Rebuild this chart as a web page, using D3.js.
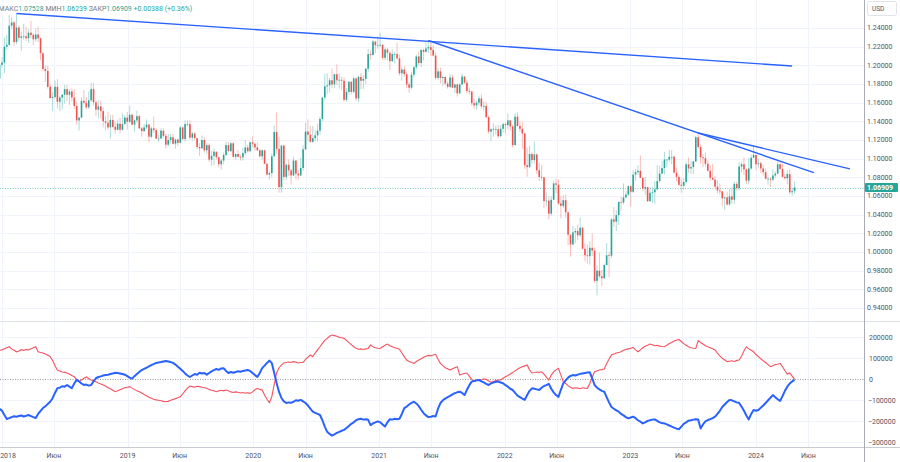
<!DOCTYPE html>
<html>
<head>
<meta charset="utf-8">
<script src="https://cdn.jsdelivr.net/npm/d3@7"></script>
<style>
  body { margin: 0; background: #fff; }
  svg { display: block; font-family: Roboto, "Noto Sans", sans-serif; }
</style>
</head>
<body>
<svg id="chart" width="900" height="462"></svg>
<script>
// weekly EURUSD bars, first bar = week of 2017-12-25, open of a bar = close of the bar before
const firstWeek = new Date(2017, 11, 25)
const firstOpen = 1.1860

const closes = [
  1.2005,
  // 2018
  1.2030,1.2200,1.2220,1.2425,1.2460,1.2250,1.2405,1.2295,1.2310,1.2310,1.2290,1.2350,1.2325,1.2280,1.2330,1.2290,1.2130,1.1960,
  1.1940,1.1770,1.1650,1.1660,1.1770,1.1610,1.1655,1.1685,1.1745,1.1685,1.1720,1.1655,1.1565,1.1410,1.1440,1.1620,1.1600,1.1550,
  1.1625,1.1745,1.1605,1.1525,1.1560,1.1510,1.1400,1.1385,1.1335,1.1415,1.1340,1.1310,1.1375,1.1310,1.1370,1.1440,1.1395,
  // 2019
  1.1470,1.1365,1.1410,1.1455,1.1325,1.1295,1.1335,1.1365,1.1235,1.1325,1.1305,1.1215,1.1215,1.1300,1.1245,1.1150,1.1200,1.1230,
  1.1160,1.1205,1.1170,1.1335,1.1210,1.1370,1.1370,1.1225,1.1270,1.1220,1.1125,1.1110,1.1200,1.1090,1.1145,1.0990,1.1030,1.1075,
  1.1015,1.0940,1.0980,1.1040,1.1145,1.1080,1.1165,1.1020,1.1050,1.1020,1.1015,1.1060,1.1120,1.1080,1.1175,1.1160,
  // 2020
  1.1120,1.1090,1.1025,1.1090,1.0945,1.0830,1.0845,1.1025,1.1285,1.1105,1.0695,1.1140,1.0805,1.0935,1.0875,1.0820,1.0980,1.0840,
  1.0820,1.0900,1.1100,1.1290,1.1255,1.1180,1.1220,1.1250,1.1300,1.1425,1.1655,1.1775,1.1785,1.1840,1.1795,1.1905,1.1840,1.1845,
  1.1835,1.1630,1.1715,1.1825,1.1715,1.1860,1.1645,1.1875,1.1835,1.1855,1.1965,1.2120,1.2110,1.2255,1.2215,1.2215,
  // 2021
  1.2220,1.2080,1.2170,1.2135,1.2045,1.2120,1.2120,1.2075,1.1915,1.1955,1.1905,1.1795,1.1760,1.1900,1.1980,1.2095,1.2025,1.2165,
  1.2145,1.2180,1.2195,1.2165,1.2105,1.1865,1.1935,1.1865,1.1875,1.1805,1.1770,1.1870,1.1760,1.1795,1.1700,1.1795,1.1880,1.1815,
  1.1725,1.1720,1.1595,1.1570,1.1600,1.1645,1.1560,1.1565,1.1445,1.1290,1.1315,1.1315,1.1315,1.1240,1.1320,1.1370,
  // 2022
  1.1360,1.1410,1.1345,1.1145,1.1450,1.1350,1.1320,1.1270,1.0930,1.0910,1.1050,1.0985,1.1045,1.0875,1.0805,1.0800,1.0545,1.0550,
  1.0410,1.0560,1.0735,1.0720,1.0520,1.0495,1.0555,1.0425,1.0185,1.0080,1.0210,1.0225,1.0180,1.0260,1.0035,0.9965,0.9955,1.0045,
  1.0015,0.9690,0.9800,0.9740,0.9720,0.9860,0.9965,0.9960,1.0350,1.0325,1.0395,1.0535,1.0530,1.0585,1.0615,1.0705,
  // 2023
  1.0645,1.0830,1.0855,1.0870,1.0795,1.0680,1.0695,1.0545,1.0635,1.0640,1.0670,1.0760,1.0840,1.0900,1.0990,1.0990,1.1020,1.1020,
  1.0850,1.0805,1.0720,1.0710,1.0750,1.0940,1.0895,1.0910,1.0970,1.1230,1.1125,1.1015,1.1005,1.0945,1.0870,1.0795,1.0775,1.0700,
  1.0660,1.0650,1.0575,1.0585,1.0510,1.0595,1.0560,1.0730,1.0685,1.0915,1.0940,1.0885,1.0765,1.0895,1.1010,1.1040,
  // 2024
  1.0940,1.0950,1.0895,1.0855,1.0785,1.0785,1.0775,1.0820,1.0840,1.0940,1.0890,1.0805,1.0790,1.0835,1.0640,1.06521,1.06909
]

const highs = [
  1.2023,
  1.2089,1.2297,1.2323,1.2537,1.2520,1.2475,1.2556,1.2430,1.2355,1.2446,1.2413,1.2388,1.2476,1.2345,1.2396,1.2414,1.2295,1.2140,
  1.1996,1.1996,1.1803,1.1717,1.1840,1.1852,1.1675,1.1690,1.1790,1.1791,1.1745,1.1750,1.1745,1.1610,1.1445,1.1655,1.1734,1.1660,
  1.1721,1.1815,1.1815,1.1625,1.1622,1.1621,1.1550,1.1456,1.1500,1.1472,1.1470,1.1400,1.1420,1.1440,1.1485,1.1470,1.1500,
  1.1570,1.1485,1.1420,1.1515,1.1470,1.1340,1.1370,1.1420,1.1350,1.1345,1.1450,1.1325,1.1255,1.1325,1.1325,1.1265,1.1265,1.1265,
  1.1265,1.1215,1.1215,1.1350,1.1345,1.1410,1.1410,1.1410,1.1285,1.1285,1.1215,1.1165,1.1250,1.1230,1.1165,1.1165,1.1085,1.1110,
  1.1075,1.1025,1.1000,1.1065,1.1180,1.1180,1.1175,1.1175,1.1055,1.1095,1.1040,1.1115,1.1200,1.1150,1.1185,1.1240,
  1.1170,1.1175,1.1100,1.1100,1.1095,1.0955,1.0865,1.1055,1.1355,1.1495,1.1235,1.1145,1.1150,1.0950,1.0990,1.0890,1.1020,1.0980,
  1.0875,1.1010,1.1145,1.1385,1.1420,1.1350,1.1350,1.1305,1.1375,1.1450,1.1660,1.1910,1.1915,1.1865,1.1965,1.1910,1.2010,1.1915,
  1.1880,1.1870,1.1755,1.1830,1.1800,1.1880,1.1870,1.1890,1.1920,1.1895,1.1965,1.2175,1.2165,1.2275,1.2250,1.2310,
  1.2350,1.2225,1.2190,1.2185,1.2150,1.2170,1.2145,1.2245,1.2115,1.1990,1.1990,1.1935,1.1820,1.1925,1.1995,1.2115,1.2150,1.2170,
  1.2180,1.2245,1.2265,1.2255,1.2220,1.2145,1.1975,1.1975,1.1895,1.1880,1.1830,1.1910,1.1900,1.1805,1.1805,1.1810,1.1910,1.1880,
  1.1845,1.1760,1.1720,1.1640,1.1625,1.1670,1.1690,1.1615,1.1610,1.1465,1.1325,1.1380,1.1355,1.1360,1.1360,1.1385,
  1.1385,1.1485,1.1415,1.1365,1.1485,1.1495,1.1395,1.1395,1.1275,1.1120,1.1140,1.1070,1.1185,1.1055,1.0955,1.0935,1.0800,1.0640,
  1.0595,1.0600,1.0765,1.0785,1.0775,1.0600,1.0610,1.0615,1.0430,1.0190,1.0280,1.0255,1.0295,1.0370,1.0270,1.0090,1.0080,1.0115,
  1.0200,1.0050,0.9855,0.9995,0.9810,0.9875,1.0095,1.0000,1.0365,1.0480,1.0450,1.0545,1.0595,1.0735,1.0655,1.0715,
  1.0715,1.0875,1.0890,1.0930,1.1035,1.0795,1.0805,1.0700,1.0690,1.0695,1.0760,1.0930,1.0925,1.0975,1.1075,1.0995,1.1095,1.1090,
  1.1035,1.0905,1.0830,1.0780,1.0790,1.0970,1.1010,1.0975,1.0975,1.1245,1.1275,1.1150,1.1045,1.1065,1.0985,1.0930,1.0945,1.0810,
  1.0770,1.0735,1.0650,1.0590,1.0640,1.0670,1.0695,1.0755,1.0755,1.0960,1.0965,1.1015,1.0895,1.1010,1.1045,1.1140,
  1.1045,1.1000,1.0970,1.0935,1.0895,1.0805,1.0805,1.0890,1.0865,1.0980,1.0965,1.0945,1.0840,1.0875,1.0885,1.0690,1.07528
]

const lows = [
  1.1850,
  1.1980,1.1915,1.2165,1.2210,1.2387,1.2206,1.2224,1.2260,1.2155,1.2275,1.2260,1.2240,1.2290,1.2215,1.2255,1.2250,1.2055,1.1937,
  1.1823,1.1750,1.1643,1.1510,1.1645,1.1540,1.1508,1.1527,1.1590,1.1614,1.1575,1.1610,1.1530,1.1365,1.1301,1.1430,1.1580,1.1526,
  1.1530,1.1610,1.1570,1.1460,1.1430,1.1430,1.1335,1.1302,1.1310,1.1215,1.1325,1.1265,1.1300,1.1270,1.1300,1.1370,1.1310,
  1.1380,1.1360,1.1290,1.1385,1.1320,1.1235,1.1290,1.1320,1.1175,1.1220,1.1275,1.1210,1.1180,1.1215,1.1225,1.1110,1.1135,1.1165,
  1.1150,1.1105,1.1135,1.1165,1.1200,1.1180,1.1345,1.1205,1.1195,1.1200,1.1100,1.1030,1.1110,1.1065,1.1050,1.0965,1.0925,1.0925,
  1.0990,1.0905,1.0880,1.0940,1.1025,1.1075,1.1070,1.1015,1.0990,1.1015,1.0980,1.0980,1.1040,1.1065,1.1070,1.1125,
  1.1085,1.1085,1.1020,1.0990,1.0940,1.0825,1.0775,1.0800,1.1055,1.1055,1.0635,1.0635,1.0770,1.0770,1.0815,1.0725,1.0815,1.0780,
  1.0775,1.0815,1.0870,1.1095,1.1190,1.1170,1.1170,1.1185,1.1185,1.1255,1.1400,1.1625,1.1695,1.1710,1.1755,1.1755,1.1790,1.1750,
  1.1735,1.1610,1.1610,1.1685,1.1690,1.1700,1.1620,1.1605,1.1745,1.1745,1.1800,1.1925,1.2060,1.2110,1.2130,1.2175,
  1.2195,1.2055,1.2055,1.2055,1.1950,1.2035,1.2020,1.2060,1.1890,1.1835,1.1875,1.1760,1.1705,1.1745,1.1870,1.1955,1.2000,1.1985,
  1.2050,1.2135,1.2135,1.2100,1.2095,1.1845,1.1845,1.1805,1.1780,1.1790,1.1750,1.1755,1.1755,1.1705,1.1665,1.1695,1.1790,1.1800,
  1.1700,1.1685,1.1565,1.1530,1.1525,1.1570,1.1535,1.1515,1.1430,1.1265,1.1185,1.1235,1.1260,1.1220,1.1235,1.1275,
  1.1270,1.1315,1.1300,1.1120,1.1150,1.1345,1.1285,1.1105,1.0890,1.0805,1.0900,1.0945,1.0945,1.0835,1.0760,1.0770,1.0470,1.0490,
  1.0350,1.0390,1.0560,1.0630,1.0505,1.0360,1.0470,1.0365,1.0070,0.9950,1.0095,1.0095,1.0125,1.0160,1.0030,0.9900,0.9875,0.9865,
  0.9955,0.9670,0.9535,0.9720,0.9630,0.9705,0.9860,0.9730,0.9935,1.0270,1.0225,1.0290,1.0440,1.0510,1.0575,1.0600,
  1.0485,1.0630,1.0765,1.0825,1.0790,1.0655,1.0615,1.0535,1.0535,1.0525,1.0515,1.0715,1.0745,1.0835,1.0830,1.0910,1.0965,1.0940,
  1.0850,1.0760,1.0710,1.0635,1.0665,1.0735,1.0845,1.0835,1.0835,1.0965,1.1110,1.0945,1.0910,1.0915,1.0865,1.0765,1.0770,1.0685,
  1.0630,1.0615,1.0490,1.0450,1.0495,1.0495,1.0520,1.0515,1.0655,1.0660,1.0850,1.0825,1.0725,1.0725,1.0880,1.1010,
  1.0875,1.0900,1.0845,1.0820,1.0780,1.0720,1.0695,1.0760,1.0795,1.0835,1.0875,1.0800,1.0775,1.0725,1.0620,1.0600,1.06239
]

// COT net positions, thousands of contracts, same weeks as the bars
const blueNet = [
  -140,
  -150,-170,-189,-185,-180,-176,-178,-175,-172,-177,-174,-170,-175,-180,-184,-165,-150,-137,-128,-118,
  -107,-90,-65,-42,-40,-33,-35,-27,-35,-42,-20,-3,-10,-20,-27,-25,-30,-27,-10,5,
  11,14,18,20,22,25,28,31,30,28,25,22,15,8,3,15,25,35,44,50,
  55,62,68,72,78,80,82,85,87,85,82,78,70,60,50,40,28,18,11,18,
  25,22,31,28,30,22,30,38,44,49,45,52,53,40,30,35,31,35,38,36,
  40,42,44,40,30,20,11,30,53,65,78,89,78,30,-18,-60,-89,-105,-113,-110,
  -112,-107,-100,-102,-98,-105,-113,-125,-140,-154,-160,-165,-170,-195,-225,-250,-260,-268,-262,-255,
  -250,-245,-241,-232,-222,-212,-205,-195,-190,-188,-192,-190,-193,-218,-210,-205,-200,-205,-215,-225,
  -205,-190,-192,-188,-190,-188,-165,-137,-130,-120,-112,-107,-115,-128,-145,-161,-172,-180,-178,-175,
  -177,-140,-113,-100,-92,-85,-79,-72,-66,-62,-59,-65,-75,-50,-28,-11,-8,-5,-3,-10,
  -15,-22,-27,-20,-15,-12,-11,-15,-19,-28,-35,-45,-51,-65,-78,-85,-92,-98,-75,-55,
  -43,-45,-48,-51,-40,-32,-28,-22,-45,-62,-75,-84,-50,-19,-5,8,16,20,18,22,
  26,28,30,32,33,5,-27,-40,-48,-55,-59,-85,-110,-132,-140,-148,-154,-165,-172,-180,
  -186,-182,-178,-185,-195,-202,-210,-205,-198,-195,-192,-191,-198,-205,-208,-210,-215,-220,-225,-230,
  -235,-238,-225,-212,-205,-197,-195,-192,-190,-191,-234,-215,-200,-194,-190,-185,-178,-165,-150,-132,
  -120,-108,-98,-100,-105,-110,-113,-130,-150,-172,-191,-165,-146,-150,-146,-135,-125,-113,-100,-88,
  -75,-85,-95,-103,-80,-55,-35,-20,-10,-3
]

const redNet = [
  138,
  140,145,150,155,145,138,131,135,141,138,142,140,145,150,155,131,128,125,120,114,
  108,90,65,44,40,35,33,30,25,18,12,0,-11,-3,5,11,4,-3,-8,-12,
  -18,-22,-27,-32,-40,-45,-52,-59,-55,-50,-45,-40,-38,-35,-42,-48,-55,-59,-65,-72,
  -78,-85,-90,-95,-98,-100,-102,-105,-107,-105,-100,-96,-92,-88,-83,-70,-55,-42,-32,-35,
  -38,-33,-35,-38,-40,-43,-48,-52,-55,-59,-55,-52,-55,-51,-55,-60,-63,-60,-62,-65,
  -63,-66,-64,-67,-60,-50,-43,-48,-51,-75,-95,-111,-83,-25,30,55,68,78,80,82,
  80,84,82,78,80,80,95,105,116,108,125,140,155,171,185,195,205,211,208,205,
  200,198,195,185,175,165,155,148,143,145,142,145,147,163,155,150,148,147,155,162,
  168,160,155,150,148,143,125,108,92,85,80,76,85,92,98,105,110,114,112,116,
  119,95,76,65,55,50,44,50,55,60,20,25,28,30,15,0,-11,-5,-2,-4,
  2,0,-8,-14,-10,-6,-4,-3,5,12,18,25,32,40,48,55,60,64,68,45,
  30,32,35,33,36,25,10,-3,20,35,45,52,20,-11,-20,-30,-38,-43,-40,-42,
  -45,-40,-42,-43,-20,10,36,40,44,46,49,75,95,116,120,125,128,131,138,142,
  145,148,152,140,131,140,150,158,162,168,165,160,162,158,156,155,162,170,175,182,
  186,190,180,170,162,155,150,148,147,184,175,168,160,155,150,145,140,125,112,100,
  92,84,86,88,85,90,92,110,135,155,145,138,131,118,108,98,88,80,70,60,
  65,70,72,76,60,42,25,30,15,0
]

const priceTicks = ['0.94000','0.96000','0.98000','1.00000','1.02000','1.04000','1.06000','1.08000',
  '1.10000','1.12000','1.14000','1.16000','1.18000','1.20000','1.22000','1.24000']
const cotTicks = [200000, 100000, 0, -100000, -200000, -300000]
const timeTicks = [
  ['2018-01-01','2018'],['2018-06-01','Июн'],['2019-01-01','2019'],['2019-06-01','Июн'],
  ['2020-01-01','2020'],['2020-06-01','Июн'],['2021-01-01','2021'],['2021-06-01','Июн'],
  ['2022-01-01','2022'],['2022-06-01','Июн'],['2023-01-01','2023'],['2023-06-01','Июн'],
  ['2024-01-01','2024'],['2024-06-01','Июн']
]

// hand drawn trend lines: [date, price] -> [date, price]
const trendLines = [
  [['2018-02-12', 1.2556], ['2024-04-15', 1.1993]],
  [['2021-05-24', 1.2266], ['2024-06-17', 1.0850]],
  [['2023-07-17', 1.1275], ['2024-09-30', 1.0890]]
]

const legendParts = [
  ['МАКС', 'label'], ['1.07528', 'value'], [' МИН', 'label'], ['1.06239', 'value'],
  [' ЗАКР', 'label'], ['1.06909', 'value'], [' +0.00388 (+0.36%)', 'value']
]
const lastPrice = 1.06909

const UP = '#26a69a', DOWN = '#ef5350', BLUE = '#2962ff', RED = '#f7525f'
const GRID = '#f0f3fa', TEXT = '#50535e'
const axisX = 864

const parse = d3.timeParse('%Y-%m-%d')
const svg = d3.select('#chart')

const x = d3.scaleTime()
  .domain([new Date(2018, 0, 1), new Date(2024, 0, 1)])
  .range([2, 756])
const y = d3.scaleLinear().domain([0.94, 1.24]).range([308, 28])
const yc = d3.scaleLinear().domain([-300000, 200000]).range([442.3, 337.3])

const bars = closes.map((c, i) => ({
  date: d3.timeWeek.offset(firstWeek, i),
  o: i === 0 ? firstOpen : closes[i - 1],
  c: c, h: highs[i], l: lows[i]
}))
const cot = blueNet.map((b, i) => ({ date: bars[i].date, blue: b * 1000, red: redNet[i] * 1000 }))

const defs = svg.append('defs')
defs.append('clipPath').attr('id', 'clipMain')
  .append('rect').attr('x', 0).attr('y', 0).attr('width', axisX).attr('height', 321)
defs.append('clipPath').attr('id', 'clipCot')
  .append('rect').attr('x', 0).attr('y', 322).attr('width', axisX).attr('height', 125)

// grid
const grid = svg.append('g').attr('stroke', GRID).attr('stroke-width', 1)
grid.selectAll('line.v')
  .data(timeTicks)
  .join('line')
  .attr('class', 'v')
  .attr('x1', d => Math.round(x(parse(d[0]))) + 0.5)
  .attr('x2', d => Math.round(x(parse(d[0]))) + 0.5)
  .attr('y1', 0).attr('y2', 447)
grid.selectAll('line.hp')
  .data(priceTicks)
  .join('line')
  .attr('class', 'hp')
  .attr('x1', 0).attr('x2', axisX)
  .attr('y1', d => Math.round(y(+d)) + 0.5)
  .attr('y2', d => Math.round(y(+d)) + 0.5)
grid.selectAll('line.hc')
  .data(cotTicks.filter(d => d !== 0))
  .join('line')
  .attr('class', 'hc')
  .attr('x1', 0).attr('x2', axisX)
  .attr('y1', d => Math.round(yc(d)) + 0.5)
  .attr('y2', d => Math.round(yc(d)) + 0.5)

// pane borders
svg.append('line').attr('x1', 0).attr('x2', 900).attr('y1', 321.5).attr('y2', 321.5)
  .attr('stroke', '#e0e3eb')
svg.append('line').attr('x1', 0).attr('x2', 900).attr('y1', 447.5).attr('y2', 447.5)
  .attr('stroke', '#c8cbd2')
svg.append('line').attr('x1', axisX + 0.5).attr('x2', axisX + 0.5).attr('y1', 0).attr('y2', 462)
  .attr('stroke', '#a9acb4')

// candles
const main = svg.append('g').attr('clip-path', 'url(#clipMain)')

const lastY = Math.round(y(lastPrice)) + 0.5
main.append('line')
  .attr('x1', 0).attr('x2', axisX)
  .attr('y1', lastY).attr('y2', lastY)
  .attr('stroke', '#7fcbc3').attr('stroke-width', 1)
  .attr('stroke-dasharray', '1,1.5')

const candle = main.append('g')
  .selectAll('g')
  .data(bars)
  .join('g')
  .attr('fill', d => d.c >= d.o ? UP : DOWN)
  .attr('stroke', d => d.c >= d.o ? UP : DOWN)
candle.append('line')
  .attr('x1', d => x(d.date)).attr('x2', d => x(d.date))
  .attr('y1', d => y(Math.max(d.h, d.o, d.c)))
  .attr('y2', d => y(Math.min(d.l, d.o, d.c)))
  .attr('stroke-width', 0.7)
  .attr('stroke-opacity', 0.55)
candle.append('rect')
  .attr('stroke', 'none')
  .attr('x', d => x(d.date) - 0.8)
  .attr('width', 1.6)
  .attr('y', d => y(Math.max(d.o, d.c)))
  .attr('height', d => Math.max(0.7, Math.abs(y(d.o) - y(d.c))))

main.append('g')
  .attr('stroke', BLUE).attr('stroke-width', 1.4).attr('fill', 'none')
  .selectAll('line')
  .data(trendLines)
  .join('line')
  .attr('x1', d => x(parse(d[0][0]))).attr('y1', d => y(d[0][1]))
  .attr('x2', d => x(parse(d[1][0]))).attr('y2', d => y(d[1][1]))

// legend
const legend = svg.append('text')
  .attr('x', -1.5).attr('y', 10.5)
  .attr('font-size', 7)
  .attr('xml:space', 'preserve')
legend.selectAll('tspan')
  .data(legendParts)
  .join('tspan')
  .attr('fill', d => d[1] === 'label' ? '#787b86' : UP)
  .text(d => d[0])

// COT pane
const lower = svg.append('g').attr('clip-path', 'url(#clipCot)')
lower.append('line')
  .attr('x1', 0).attr('x2', axisX)
  .attr('y1', Math.round(yc(0)) + 0.5).attr('y2', Math.round(yc(0)) + 0.5)
  .attr('stroke', '#9598a1').attr('stroke-dasharray', '1,1.5')
lower.append('path')
  .datum(cot)
  .attr('fill', 'none').attr('stroke', RED).attr('stroke-width', 1.1)
  .attr('d', d3.line().x(d => x(d.date)).y(d => yc(d.red)))
lower.append('path')
  .datum(cot)
  .attr('fill', 'none').attr('stroke', BLUE).attr('stroke-width', 2)
  .attr('stroke-linejoin', 'round')
  .attr('d', d3.line().x(d => x(d.date)).y(d => yc(d.blue)))

// price scale
const axisText = svg.append('g').attr('font-size', 7).attr('fill', TEXT)
axisText.selectAll('text.p')
  .data(priceTicks)
  .join('text')
  .attr('class', 'p')
  .attr('x', 867).attr('y', d => y(+d))
  .attr('dy', '0.35em')
  .text(d => d)
axisText.selectAll('text.c')
  .data(cotTicks)
  .join('text')
  .attr('class', 'c')
  .attr('x', d => d < 0 ? 868 : 869).attr('y', d => yc(d))
  .attr('dy', '0.35em')
  .text(d => d < 0 ? '\u2212' + Math.abs(d) : String(d))
axisText.selectAll('text.t')
  .data(timeTicks)
  .join('text')
  .attr('class', 't')
  .attr('x', d => Math.max(x(parse(d[0])), 8)).attr('y', 457.5)
  .attr('text-anchor', 'middle')
  .text(d => d[1])

// last price badge
svg.append('rect')
  .attr('x', axisX + 1).attr('y', y(lastPrice) - 4.5)
  .attr('width', 33).attr('height', 9).attr('rx', 1)
  .attr('fill', UP)
svg.append('text')
  .attr('x', 867).attr('y', y(lastPrice)).attr('dy', '0.35em')
  .attr('font-size', 7).attr('font-weight', 'bold').attr('fill', '#fff')
  .text(lastPrice.toFixed(5))

// currency box
svg.append('rect')
  .attr('x', 867.5).attr('y', 1.5).attr('width', 29).attr('height', 14).attr('rx', 2)
  .attr('fill', '#fff').attr('stroke', '#e0e3eb')
svg.append('text')
  .attr('x', 872).attr('y', 11)
  .attr('font-size', 6.5).attr('fill', TEXT)
  .text('USD')
</script>
</body>
</html>
